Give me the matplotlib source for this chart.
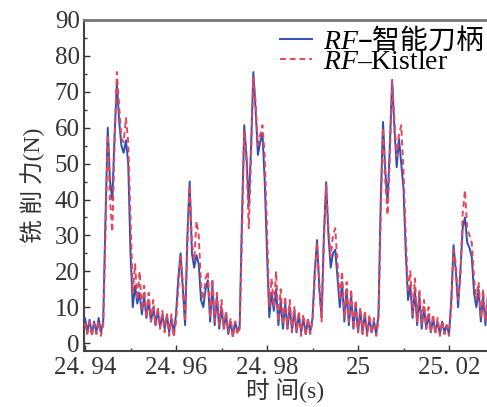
import numpy as np
import matplotlib
matplotlib.use("Agg")
import matplotlib.pyplot as plt
from matplotlib.ticker import MultipleLocator, FixedLocator, FixedFormatter

plt.rcParams['font.family'] = ['Liberation Serif', 'Noto Sans CJK SC']
plt.rcParams['mathtext.fontset'] = 'custom'
plt.rcParams['mathtext.rm'] = 'Liberation Serif'
plt.rcParams['mathtext.it'] = 'Liberation Serif:italic'

# sampling grid (s)
t0 = 24.9395
dt = 0.0005
n = 179
time = np.round(t0 + dt * np.arange(n), 4)

rf_smart = [
    5, 7, 3, 6.5, 2.5, 6, 3, 7, 3, 6,
    35, 60, 45, 40, 58, 72.4, 62, 55, 53, 56.5,
    50, 25, 10, 16, 11, 14, 8, 13, 7, 12,
    6, 10, 5, 9, 4.5, 8, 4, 8, 3, 7,
    2.5, 8, 18, 25, 15, 5, 30, 45, 25, 21,
    24.5, 22, 12, 10, 15, 17.5, 6, 16, 5, 13,
    4, 10, 4, 8, 2.5, 6, 2, 6, 3, 5,
    35, 60.7, 52, 38, 55, 75.5, 65, 52.4, 56, 58.5,
    45, 25, 7.2, 14, 9, 15, 5, 12, 4, 11,
    4, 10, 3.5, 9, 3, 8, 3, 7, 2.5, 6.5,
    3, 7, 20, 28.7, 15, 7.2, 30, 44.8, 30, 21,
    25, 26, 18, 10, 17, 6, 15, 5, 13, 4,
    11, 3, 9, 3, 8, 2.5, 7, 3, 6, 2.5,
    8, 40, 61.6, 48, 39, 55, 73.3, 60, 49, 57,
    50, 43, 25, 12, 16, 7, 15, 5, 13, 4,
    10, 4, 8, 3, 7, 3, 6, 2.5, 6, 3,
    5, 2.5, 12, 27.3, 20, 10, 20, 32, 35, 28,
    26.5, 24, 14, 10, 15, 6, 13, 5, 12,
]

rf_kistler = [
    4, 6, 2.5, 6, 2, 5.5, 2.5, 6, 2, 5,
    30, 58, 40, 31, 55, 75.5, 66, 57, 56, 62.7,
    56, 35, 14, 22, 12, 20, 9, 16, 7, 14,
    6, 12, 5, 10, 4, 9, 3, 8, 2, 8,
    1.7, 6, 15, 24, 17, 6, 27, 44, 28, 23,
    34, 30, 16, 12, 18, 20, 7, 18, 6, 14,
    5, 12, 4, 9, 3, 7, 1.5, 6, 2.5, 4,
    30, 59, 50, 32, 52, 74, 67, 55, 58, 60.7,
    52, 32, 10, 18, 10, 20, 6, 15, 5, 13,
    4, 12, 3, 10, 3, 9, 2, 8, 2, 7,
    2.5, 6, 18, 28, 17, 6, 28, 44, 32, 24,
    30, 32, 22, 12, 20, 7, 17, 6, 15, 4,
    12, 3, 10, 2.5, 9, 2, 8, 2.5, 7, 2,
    6, 36, 60, 45, 35.7, 52, 73, 62, 52, 58,
    60.7, 48, 30, 14, 20, 8, 18, 6, 15, 5,
    12, 4, 10, 3, 8, 2.5, 7, 2, 6, 2.5,
    5, 2, 10, 26, 22, 12, 18, 36, 42.6, 32,
    30, 28, 18, 12, 17, 7, 15, 6, 13,
]

xticks = [24.94, 24.96, 24.98, 25.00, 25.02]
xticklabels = ["24. 94", "24. 96", "24. 98", "25", "25. 02"]
yticks = list(range(0, 91, 10))

W, H = 487, 407
fig = plt.figure(figsize=(W / 100, H / 100), dpi=100)
L, R, T, B = 84, 487, 20, 351
ax = fig.add_axes([L / W, 1 - B / H, (R - L) / W, (B - T) / H])

l1, = ax.plot(time, rf_smart, color='#2f4fb5', lw=1.4, zorder=3)
l2, = ax.plot(time, rf_kistler, color='#e6455a', lw=1.4, ls=(0, (3, 2)), zorder=4)

ax.set_xlim(24.93978, 25.02835)
ax.set_ylim(-2.2, 90)
ax.xaxis.set_major_locator(FixedLocator(xticks))
ax.xaxis.set_major_formatter(FixedFormatter(xticklabels))
ax.xaxis.set_minor_locator(MultipleLocator(0.01))
ax.yaxis.set_major_locator(FixedLocator(yticks))
ax.yaxis.set_minor_locator(MultipleLocator(5))
ax.tick_params(which='both', direction='in', labelsize=18, colors='#333333')
ax.tick_params(which='major', length=4, width=1)
ax.tick_params(which='minor', length=2.5, width=1)
ax.tick_params(axis='x', pad=4)
ax.tick_params(axis='y', pad=3)

for s in ['left', 'bottom']:
    ax.spines[s].set_color('#444444')
    ax.spines[s].set_linewidth(1.5)
ax.spines['top'].set_color('#777777')
ax.spines['top'].set_linewidth(2)
ax.spines['right'].set_visible(False)

ax.set_ylabel('铣 削 力(N)', fontsize=17, color='#333333', labelpad=7)
ax.set_xlabel('时 间(s)', fontsize=17, color='#333333', labelpad=0)


def ax_frac(px, py):
    return ((px - L) / (R - L), (B - py) / (B - T))


leg_kw = dict(loc='center left', fontsize=20, frameon=False, handlelength=1.15,
              handletextpad=0.4, borderpad=0, borderaxespad=0)
leg1 = ax.legend([l1], [r'$\mathit{RF}$–智能刀柄'], bbox_to_anchor=ax_frac(280, 41), **leg_kw)
leg1.get_texts()[0].set_fontfamily(['Noto Sans CJK SC'])
ax.add_artist(leg1)
leg2 = ax.legend([l2], [r'$\mathit{RF}$–Kistler'], bbox_to_anchor=ax_frac(280, 62), **leg_kw)

fig.savefig('out.png', dpi=100)
